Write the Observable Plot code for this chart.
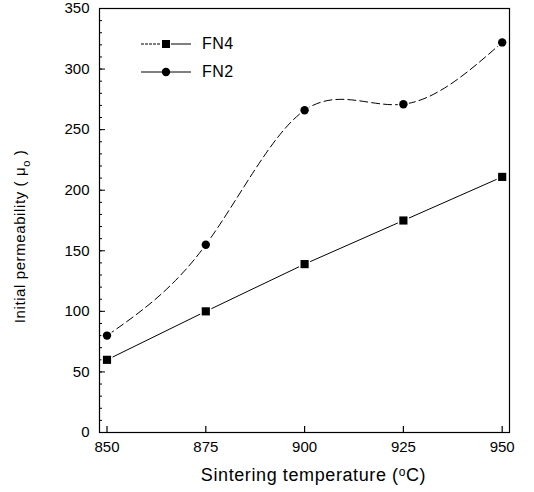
<!DOCTYPE html>
<html>
<head>
<meta charset="utf-8">
<script src="https://cdn.jsdelivr.net/npm/d3@7"></script>
<script src="https://cdn.jsdelivr.net/npm/@observablehq/plot@0.6"></script>
<style>
  html, body { margin: 0; padding: 0; background: #fff; }
  #wrap { position: relative; width: 534px; height: 492px; font-family: "Liberation Sans", Arial, sans-serif; }
  #legend { position: absolute; left: 141px; top: 30px; font-size: 16px; color: #000; letter-spacing: 0.5px; }
  .row { display: flex; align-items: center; height: 28px; }
  .row svg { margin-right: 11px; }
</style>
</head>
<body>
<div id="wrap"><div id="legend"></div></div>
<script>
// ---- data ----
const temps = [850, 875, 900, 925, 950];
const fn4 = [60, 100, 139, 175, 211];
const fn2 = [80, 155, 266, 271, 322];
const xTicks = [850, 875, 900, 925, 950];
const yTicks = [0, 50, 100, 150, 200, 250, 300, 350];
const yMinor = d3.range(0, 351, 10);
const seriesNames = ["FN4", "FN2"];
const xTitle = ["Sintering temperature (", "o", "C)"];
const yTitle = ["Initial permeability ( μ", "o", " )"];

const rows4 = temps.map((t, i) => ({x: t, y: fn4[i]}));
const rows2 = temps.map((t, i) => ({x: t, y: fn2[i]}));

const W = 534, H = 492, mL = 99, mR = 25, mT = 8, mB = 60;
const fw = W - mL - mR, fh = H - mT - mB;

const chart = Plot.plot({
  width: W, height: H,
  marginLeft: mL, marginRight: mR, marginTop: mT, marginBottom: mB,
  style: {fontFamily: '"Liberation Sans", Arial, sans-serif', fontSize: "15px", color: "#000", background: "#fff"},
  x: {domain: [848.1, 951.85]},
  y: {domain: [0, 350]},
  marks: [
    Plot.axisX({ticks: xTicks, tickSize: 0, tickPadding: 9, tickFormat: d => String(d), fontSize: 15, label: null}),
    Plot.axisY({ticks: yTicks, tickSize: 0, tickPadding: 10, tickFormat: d => String(d), fontSize: 15, label: null}),
    Plot.text([xTitle.join("")], {frameAnchor: "bottom", dy: 48, dx: 9, fontSize: 18, fill: "#000", className: "xtitle"}),
    Plot.text([yTitle.join("")], {frameAnchor: "left", textAnchor: "middle", rotate: -90, dx: -79, dy: 16, fontSize: 15, fill: "#000", className: "ytitle"}),
    Plot.tickY(yMinor, {y: d => d, stroke: "#000", strokeWidth: 1, insetRight: fw - 3}),
    Plot.tickY(yTicks, {y: d => d, stroke: "#000", strokeWidth: 1, insetRight: fw - 6}),
    Plot.tickX(xTicks, {x: d => d, stroke: "#000", strokeWidth: 1.2, insetTop: fh - 6}),
    Plot.frame({stroke: "#000", strokeWidth: 1.2}),
    Plot.line(rows4, {x: "x", y: "y", stroke: "#000", strokeWidth: 1}),
    Plot.line(rows2, {x: "x", y: "y", stroke: "#000", strokeWidth: 1, curve: "natural", strokeDasharray: "8,4"}),
    Plot.dot(rows4, {x: "x", y: "y", symbol: "square", r: 4.6, fill: "#000", stroke: "#fff", strokeWidth: 3, paintOrder: "stroke"}),
    Plot.dot(rows2, {x: "x", y: "y", symbol: "circle", r: 4.2, fill: "#000", stroke: "#fff", strokeWidth: 3, paintOrder: "stroke"})
  ]
});
const wrap = document.getElementById("wrap");
wrap.insertBefore(chart, wrap.firstChild);

// superscript o in x title, subscript o in y title
(function () {
  const tx = d3.select(chart).select("g.xtitle text");
  tx.text(null).style("letter-spacing", "0.6px");
  tx.append("tspan").text(xTitle[0]);
  tx.append("tspan").text(xTitle[1]).attr("font-size", "12px").attr("dy", "-5");
  tx.append("tspan").text(xTitle[2]).attr("dy", "5");
  const ty = d3.select(chart).select("g.ytitle text");
  ty.text(null).style("letter-spacing", "0.6px");
  ty.append("tspan").text(yTitle[0]);
  ty.append("tspan").text(yTitle[1]).attr("font-size", "11px").attr("dy", "5");
  ty.append("tspan").text(yTitle[2]).attr("dy", "-5");
})();

// legend
const legend = d3.select("#legend");
seriesNames.forEach((name, i) => {
  const row = legend.append("div").attr("class", "row");
  const s = row.append("svg").attr("width", 50).attr("height", 12);
  if (i === 0) {
    s.append("line").attr("x1", 0).attr("x2", 20).attr("y1", 6).attr("y2", 6).attr("stroke", "#000").attr("stroke-dasharray", "3,1");
    s.append("line").attr("x1", 30).attr("x2", 50).attr("y1", 6).attr("y2", 6).attr("stroke", "#000");
    s.append("rect").attr("x", 21).attr("y", 2).attr("width", 8).attr("height", 8).attr("fill", "#000");
  } else {
    s.append("line").attr("x1", 0).attr("x2", 50).attr("y1", 6).attr("y2", 6).attr("stroke", "#000");
    s.append("circle").attr("cx", 25).attr("cy", 6).attr("r", 4.2).attr("fill", "#000");
  }
  row.append("span").text(name);
});
</script>
</body>
</html>
